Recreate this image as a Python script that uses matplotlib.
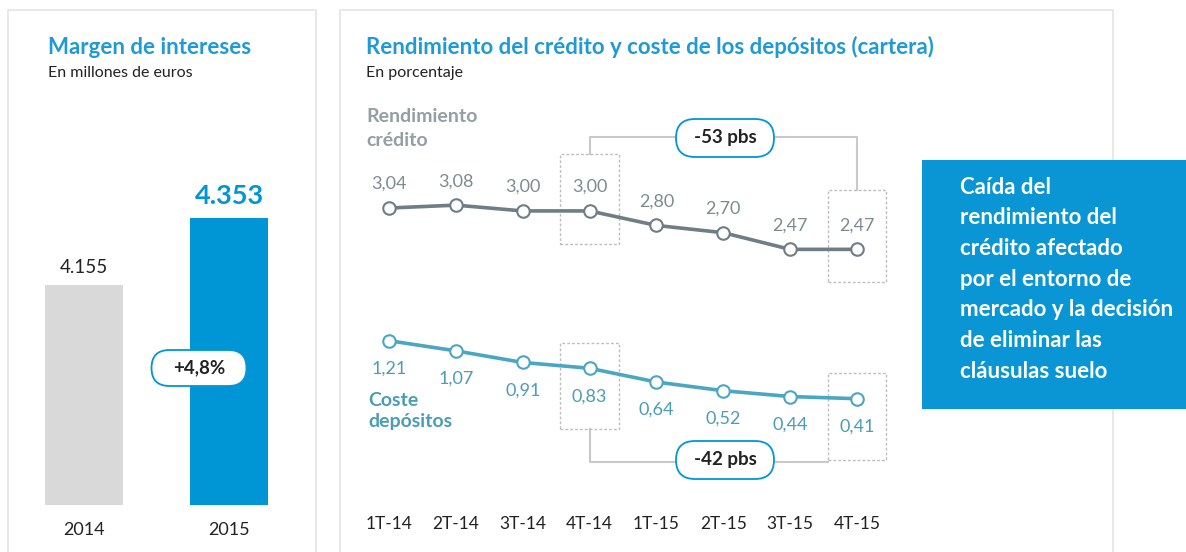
import matplotlib.pyplot as plt
from matplotlib.patches import Rectangle, FancyBboxPatch

plt.rcParams["font.family"] = ["Lato", "DejaVu Sans"]

# data
years = ["2014", "2015"]
margen = [4155, 4353]
margen_labels = ["4.155", "4.353"]
margen_change = "+4,8%"

quarters = ["1T-14", "2T-14", "3T-14", "4T-14", "1T-15", "2T-15", "3T-15", "4T-15"]
rendimiento = [3.04, 3.08, 3.00, 3.00, 2.80, 2.70, 2.47, 2.47]
coste = [1.21, 1.07, 0.91, 0.83, 0.64, 0.52, 0.44, 0.41]
delta_rend = "-53 pbs"
delta_coste = "-42 pbs"

note_lines = ["Caída del", "rendimiento del", "crédito afectado", "por el entorno de",
              "mercado y la decisión", "de eliminar las", "cláusulas suelo"]

BLUE = "#0096d6"
TITLE_BLUE = "#1f9ad6"
GREY_BAR = "#d9d9d9"
GREY_LINE = "#6e7d86"
GREY_TXT = "#7f8a91"
TEAL = "#4aa6c2"
TEAL_TXT = "#4a9db5"
FRAME = "#e4e4e4"
BRACKET = "#c9c9c9"

W, H = 1186, 552
fig = plt.figure(figsize=(W / 100, H / 100), dpi=100)


def fx(px):
    return px / W


def fy(py):
    return 1 - py / H


def px_axes(x0, y0, x1, y1):
    return fig.add_axes([fx(x0), fy(y1), (x1 - x0) / W, (y1 - y0) / H])


def pill(cx, cy, w, h, text):
    # rounded label drawn in inches so the corners stay round
    patch = FancyBboxPatch(((cx - w / 2) / 100, (H - cy - h / 2) / 100), w / 100, h / 100,
                           boxstyle="round,pad=0,rounding_size=%f" % (h / 200),
                           transform=fig.dpi_scale_trans, fc="white", ec=BLUE, lw=1.3,
                           zorder=10)
    fig.patches.append(patch)
    fig.text(fx(cx), fy(cy), text, ha="center", va="center", fontsize=13.5,
             fontweight="bold", color="#222222", zorder=11)


# panel frames
fig.patches.append(Rectangle((fx(8), fy(600)), fx(316) - fx(8), fy(10) - fy(600),
                             transform=fig.transFigure, fill=False, ec=FRAME, lw=1.2))
fig.patches.append(Rectangle((fx(340), fy(600)), fx(1113) - fx(340), fy(10) - fy(600),
                             transform=fig.transFigure, fill=False, ec=FRAME, lw=1.2))

# ---- left panel: bars ----
fig.text(fx(48), fy(47), "Margen de intereses", fontsize=16, fontweight="bold",
         color=TITLE_BLUE, va="center")
fig.text(fx(48), fy(73), "En millones de euros", fontsize=11.5, color="#222222", va="center")

ax1 = px_axes(8, 150, 316, 505)
ax1.bar([0, 1], margen, width=0.54, color=[GREY_BAR, BLUE])
ax1.set_xlim(-0.524, 1.6)
ax1.set_ylim(3505, 4554)
ax1.axis("off")
ax1.annotate(margen_labels[0], (0, margen[0]), xytext=(0, 9), textcoords="offset pixels",
             ha="center", va="bottom", fontsize=13.5, color="#222222")
ax1.annotate(margen_labels[1], (1, margen[1]), xytext=(0, 10), textcoords="offset pixels",
             ha="center", va="bottom", fontsize=19.5, fontweight="bold", color=BLUE)
for i, y in enumerate(years):
    ax1.annotate(y, (i, 3505), xytext=(0, -25), textcoords="offset pixels",
                 ha="center", va="center", fontsize=13, color="#222222")
pill(199, 368, 95, 36, margen_change)

# ---- right panel: lines ----
fig.text(fx(366), fy(47), "Rendimiento del crédito y coste de los depósitos (cartera)",
         fontsize=16, fontweight="bold", color=TITLE_BLUE, va="center")
fig.text(fx(366), fy(73), "En porcentaje", fontsize=11.5, color="#222222", va="center")

ax2 = px_axes(340, 100, 910, 520)
x = list(range(len(quarters)))
ax2.set_xlim(-0.733, 7.793)
ax2.set_ylim(-1.263, 4.53)
ax2.axis("off")

ax2.plot(x, rendimiento, color=GREY_LINE, lw=2.6, marker="o", ms=9, mfc="white",
         mec=GREY_LINE, mew=1.5, zorder=5)
ax2.plot(x, coste, color=TEAL, lw=2.6, marker="o", ms=9, mfc="white",
         mec=TEAL, mew=1.5, zorder=5)

for i, v in enumerate(rendimiento):
    ax2.annotate(f"{v:.2f}".replace(".", ","), (i, v), xytext=(0, 24), textcoords="offset pixels",
                 ha="center", va="center", fontsize=13, color=GREY_TXT)
for i, v in enumerate(coste):
    ax2.annotate(f"{v:.2f}".replace(".", ","), (i, v), xytext=(0, -28), textcoords="offset pixels",
                 ha="center", va="center", fontsize=13, color=TEAL_TXT)

for i, q in enumerate(quarters):
    ax2.annotate(q, (i, -1.263), xytext=(0, -4), textcoords="offset pixels",
                 ha="center", va="center", fontsize=12.5, color="#222222")

# highlight boxes for 4T-14 and 4T-15
bw = 0.88
for i in (3, 7):
    r = rendimiento[i]
    c = coste[i]
    ax2.add_patch(Rectangle((i - bw / 2, r - 0.45), bw, 1.23 if i == 3 else 1.27,
                            fill=False, ec="#bdbdbd", lw=1, ls=(0, (2, 1.5)), zorder=2))
    ax2.add_patch(Rectangle((i - bw / 2, c - 0.84), bw, 1.19,
                            fill=False, ec="#bdbdbd", lw=1, ls=(0, (2, 1.5)), zorder=2))

top_y = 4.02
ax2.plot([3, 3, 7, 7], [rendimiento[3] + 0.78, top_y, top_y, rendimiento[7] + 0.82],
         color=BRACKET, lw=1.5, zorder=1)
bot_y = coste[7] - 0.87
ax2.plot([3, 3, 7 - bw / 2], [coste[3] - 0.84, bot_y, bot_y],
         color=BRACKET, lw=1.5, zorder=1)

pill(725, 138, 98, 38, delta_rend)
pill(725, 460, 98, 38, delta_coste)

fig.text(fx(366), fy(117), "Rendimiento", fontsize=14, fontweight="bold", color="#949ea3",
         va="center")
fig.text(fx(366), fy(140), "crédito", fontsize=14, fontweight="bold", color="#949ea3",
         va="center")
fig.text(fx(368), fy(400), "Coste", fontsize=14, fontweight="bold", color=TEAL_TXT,
         va="center")
fig.text(fx(368), fy(421), "depósitos", fontsize=14, fontweight="bold", color=TEAL_TXT,
         va="center")

# ---- note box ----
fig.patches.append(Rectangle((fx(922), fy(409)), fx(1186) - fx(922) + 0.01, fy(160) - fy(409),
                             transform=fig.transFigure, fc="#0a96d4", ec="none", zorder=20))
for k, line in enumerate(note_lines):
    fig.text(fx(960), fy(187 + k * 30.7), line, fontsize=16, fontweight="bold",
             color="white", va="center", zorder=21)

fig.savefig("out.png", dpi=100, facecolor="white")
